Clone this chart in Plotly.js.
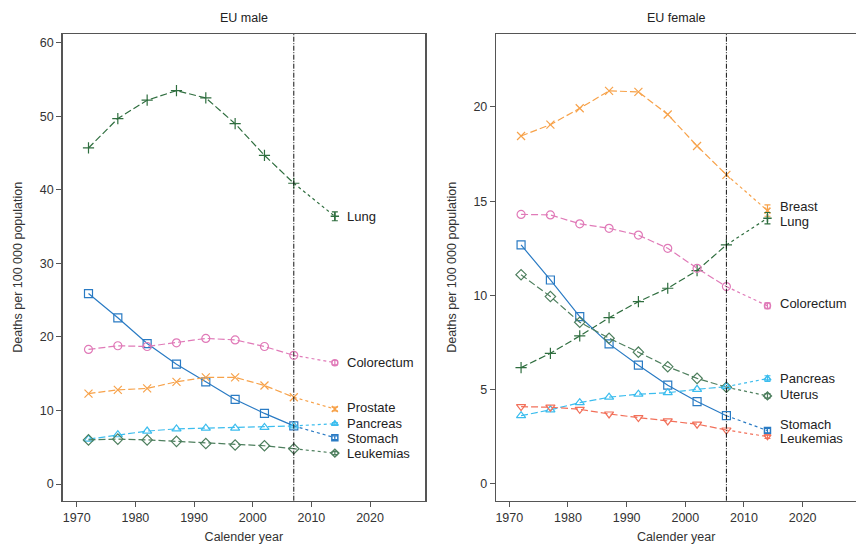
<!DOCTYPE html>
<html>
<head>
<meta charset="utf-8">
<script src="https://cdn.plot.ly/plotly-3.0.1.min.js"></script>
<style>html,body{margin:0;padding:0;background:#fff}#chart{width:856px;height:544px}</style>
</head>
<body>
<div id="chart"></div>
<script>
// ---- data ----
var years = [1972, 1977, 1982, 1987, 1992, 1997, 2002, 2007];
var predYear = 2014;

// EU male (observed 1972-2007, predicted 2014, prediction interval half-width)
var maleLung       = [45.7, 49.7, 52.2, 53.5, 52.5, 49.0, 44.7, 40.9];
var maleStomach    = [25.9, 22.6, 19.1, 16.3, 13.9, 11.5, 9.6, 7.9];
var maleColorectum = [18.3, 18.8, 18.7, 19.2, 19.8, 19.6, 18.7, 17.5];
var maleProstate   = [12.3, 12.8, 13.0, 13.9, 14.5, 14.5, 13.4, 11.8];
var malePancreas   = [6.1, 6.7, 7.2, 7.5, 7.6, 7.6, 7.7, 7.9];
var maleLeukemias  = [6.0, 6.1, 6.0, 5.8, 5.5, 5.3, 5.2, 4.8];
var malePred  = {Lung: 36.4, Colorectum: 16.5, Prostate: 10.2, Pancreas: 8.2, Stomach: 6.3, Leukemias: 4.2};
var maleErr   = {Lung: 0.6, Colorectum: 0.3, Prostate: 0.25, Pancreas: 0.15, Stomach: 0.25, Leukemias: 0.2};

// EU female
var femBreast     = [18.46, 19.06, 19.93, 20.85, 20.8, 19.6, 17.93, 16.4];
var femColorectum = [14.3, 14.27, 13.8, 13.56, 13.2, 12.5, 11.44, 10.47];
var femLung       = [6.17, 6.93, 7.85, 8.82, 9.67, 10.38, 11.32, 12.68];
var femStomach    = [12.68, 10.82, 8.88, 7.43, 6.3, 5.24, 4.37, 3.62];
var femUterus     = [11.1, 9.94, 8.58, 7.73, 6.99, 6.22, 5.6, 5.13];
var femPancreas   = [3.62, 3.93, 4.31, 4.6, 4.76, 4.84, 5.02, 5.16];
var femLeukemias  = [4.1, 4.07, 3.96, 3.71, 3.52, 3.34, 3.17, 2.86];
var femPred = {Breast: 14.5, Lung: 14.1, Colorectum: 9.45, Pancreas: 5.59, Uterus: 4.67, Stomach: 2.83, Leukemias: 2.51};
var femErr  = {Breast: 0.3, Lung: 0.3, Colorectum: 0.15, Pancreas: 0.15, Uterus: 0.12, Stomach: 0.12, Leukemias: 0.1};

var xTicks = [1970, 1980, 1990, 2000, 2010, 2020];
var maleYTicks = [0, 10, 20, 30, 40, 50, 60];
var femYTicks = [0, 5, 10, 15, 20];

// ---- styles ----
var C = {
  lung: '#2f6e3f', stomach: '#2a7bc4', colorectum: '#e07ab8', orange: '#f7a24a',
  pancreas: '#3cbdee', leukM: '#4e7f5e', uterus: '#4e7f5e', leukF: '#f2705a'
};
var DASH = '7px,3px';
var fam = 'Liberation Sans, Arial, sans-serif';

var traces = [];
var annotations = [];
function addSeries(name, vals, pred, err, color, sym, dash, xa, ya, labelOffset) {
  traces.push({
    x: years, y: vals, xaxis: xa, yaxis: ya, mode: 'lines+markers', showlegend: false,
    line: {color: color, width: 1.2, dash: dash},
    marker: {symbol: sym + '-open', size: 8, color: color, line: {width: 1.2, color: color}},
    name: name
  });
  traces.push({
    x: [years[years.length - 1], predYear], y: [vals[vals.length - 1], pred],
    xaxis: xa, yaxis: ya, mode: 'lines', showlegend: false,
    line: {color: color, width: 1.2, dash: 'dot'}
  });
  traces.push({
    x: [predYear], y: [pred], xaxis: xa, yaxis: ya, mode: 'markers', showlegend: false,
    marker: {symbol: sym + '-open', size: 6, color: color, line: {width: 1.5, color: color}},
    error_y: {type: 'data', array: [err], visible: true, color: color, thickness: 1.2, width: 3},
    name: name
  });
  annotations.push({
    x: 2015.8, y: pred + (labelOffset || 0), xref: xa, yref: ya, text: name,
    showarrow: false, xanchor: 'left', yanchor: 'middle',
    font: {size: 13, color: '#222', family: fam}
  });
}

addSeries('Lung', maleLung, malePred.Lung, maleErr.Lung, C.lung, 'cross-thin', DASH, 'x', 'y', 0);
addSeries('Stomach', maleStomach, malePred.Stomach, maleErr.Stomach, C.stomach, 'square', 'solid', 'x', 'y', -0.1);
addSeries('Colorectum', maleColorectum, malePred.Colorectum, maleErr.Colorectum, C.colorectum, 'circle', DASH, 'x', 'y', 0);
addSeries('Prostate', maleProstate, malePred.Prostate, maleErr.Prostate, C.orange, 'x-thin', DASH, 'x', 'y', 0.25);
addSeries('Pancreas', malePancreas, malePred.Pancreas, maleErr.Pancreas, C.pancreas, 'triangle-up', DASH, 'x', 'y', 0);
addSeries('Leukemias', maleLeukemias, malePred.Leukemias, maleErr.Leukemias, C.leukM, 'diamond', DASH, 'x', 'y', -0.1);

addSeries('Breast', femBreast, femPred.Breast, femErr.Breast, C.orange, 'x-thin', DASH, 'x2', 'y2', 0.2);
addSeries('Lung', femLung, femPred.Lung, femErr.Lung, C.lung, 'cross-thin', DASH, 'x2', 'y2', -0.2);
addSeries('Colorectum', femColorectum, femPred.Colorectum, femErr.Colorectum, C.colorectum, 'circle', DASH, 'x2', 'y2', 0.1);
addSeries('Stomach', femStomach, femPred.Stomach, femErr.Stomach, C.stomach, 'square', 'solid', 'x2', 'y2', 0.32);
addSeries('Uterus', femUterus, femPred.Uterus, femErr.Uterus, C.uterus, 'diamond', DASH, 'x2', 'y2', 0.05);
addSeries('Pancreas', femPancreas, femPred.Pancreas, femErr.Pancreas, C.pancreas, 'triangle-up', DASH, 'x2', 'y2', 0);
addSeries('Leukemias', femLeukemias, femPred.Leukemias, femErr.Leukemias, C.leukF, 'triangle-down', DASH, 'x2', 'y2', -0.12);

var font = {family: fam, size: 12.5, color: '#333'};
annotations.push({xref: 'paper', yref: 'paper', x: 0.285, y: 0.967, text: 'EU male', showarrow: false,
  xanchor: 'center', yanchor: 'middle', font: {family: fam, size: 12.5, color: '#222'}});
annotations.push({xref: 'paper', yref: 'paper', x: 0.79, y: 0.967, text: 'EU female', showarrow: false,
  xanchor: 'center', yanchor: 'middle', font: {family: fam, size: 12.5, color: '#222'}});

function xaxis(domain, range, anchor) {
  return {domain: domain, range: range, anchor: anchor, tickvals: xTicks, ticks: 'outside', ticklen: 5,
    tickcolor: '#555', showgrid: false, zeroline: false, showline: true, linecolor: '#555', linewidth: 1.5,
    mirror: true, tickfont: font,
    title: {text: 'Calender year', font: {family: fam, size: 12.5, color: '#333'}, standoff: 9}};
}
function yaxis(range, ticks, anchor, mirror) {
  return {domain: [0.0796, 0.9375], range: range, anchor: anchor, tickvals: ticks, ticks: 'outside', ticklen: 5,
    tickcolor: '#555', showgrid: false, zeroline: false, showline: true, linecolor: '#555', linewidth: 1.5,
    mirror: mirror, tickfont: font,
    title: {text: 'Deaths per 100 000 population', font: {family: fam, size: 12.5, color: '#333'}, standoff: 14}};
}

var layout = {
  width: 856, height: 544, margin: {l: 0, r: 0, t: 0, b: 0},
  paper_bgcolor: '#fff', plot_bgcolor: '#fff', font: font, showlegend: false,
  xaxis: xaxis([0.0733, 0.4965], [1967.61, 2029.37], 'y'),
  yaxis: yaxis([-2.27, 61.2], maleYTicks, 'x', true),
  xaxis2: xaxis([0.5798, 1.0], [1967.78, 2029.09], 'y2'),
  yaxis2: yaxis([-0.89, 23.87], femYTicks, 'x2', false),
  shapes: [
    {type: 'line', xref: 'x', yref: 'paper', x0: 2007, x1: 2007, y0: 0.0796, y1: 0.9375,
      line: {color: '#111', width: 1, dash: '5px,1.5px,1px,1.5px'}},
    {type: 'line', xref: 'x2', yref: 'paper', x0: 2007, x1: 2007, y0: 0.0796, y1: 0.9375,
      line: {color: '#111', width: 1, dash: '5px,1.5px,1px,1.5px'}}
  ],
  annotations: annotations
};

Plotly.newPlot('chart', traces, layout, {displayModeBar: false, staticPlot: true});
</script>
</body>
</html>
